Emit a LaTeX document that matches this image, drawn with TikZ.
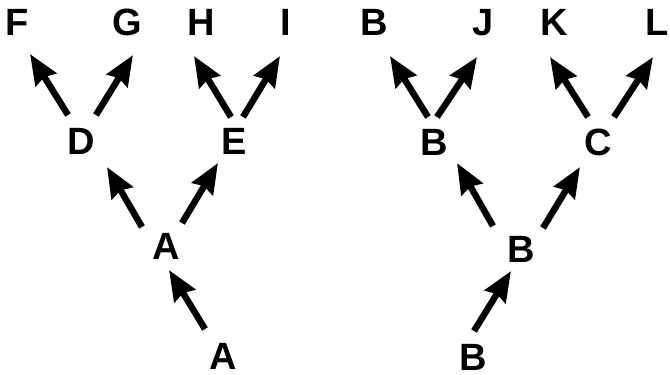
\documentclass[tikz,border=0pt]{standalone}
\usepackage{fontspec}
\setmainfont{Liberation Sans}
\usetikzlibrary{arrows.meta,calc}
\begin{document}
\begin{tikzpicture}[x=1pt,y=-1pt,
  lbl/.style={inner sep=0pt,text depth=0pt,font=\fontsize{38}{40}\selectfont\bfseries},
  arr/.style={line width=6.5pt,-{Stealth[length=30pt,width=24pt,inset=3pt]}}]
\useasboundingbox (0,0) rectangle (670,375);
% left tree
\node[lbl] (F) at (17,22) {F};
\node[lbl] (G) at (127,22) {G};
\node[lbl] (H) at (201,22) {H};
\node[lbl] (I) at (286,22) {I};
\node[lbl] (D) at (81,141) {D};
\node[lbl] (E) at (234,141) {E};
\node[lbl] (A1) at (166,246) {A};
\node[lbl] (A0) at (223,356) {A};
\draw[arr] ($(D)+(-13,-26)$) -- ($(F)+(13,32)$);
\draw[arr] ($(D)+(15,-26)$) -- ($(G)+(6,33)$);
\draw[arr] ($(E)+(-3,-24)$) -- ($(H)+(-7,34)$);
\draw[arr] ($(E)+(9,-24)$) -- ($(I)+(-6,34)$);
\draw[arr] ($(A1)+(-24,-19)$) -- ($(D)+(26,26)$);
\draw[arr] ($(A1)+(16,-23)$) -- ($(E)+(-16,22)$);
\draw[arr] ($(A0)+(-18,-27)$) -- ($(A1)+(3,24)$);
% right tree
\node[lbl] (B3) at (374,22) {B};
\node[lbl] (J) at (483,22) {J};
\node[lbl] (K) at (554,22) {K};
\node[lbl] (L) at (657,22) {L};
\node[lbl] (B2) at (434,142) {B};
\node[lbl] (C) at (598,142) {C};
\node[lbl] (B1) at (521,249) {B};
\node[lbl] (B0) at (473,357) {B};
\draw[arr] ($(B2)+(-6,-25)$) -- ($(B3)+(16,34)$);
\draw[arr] ($(B2)+(3,-25)$) -- ($(J)+(-6,35)$);
\draw[arr] ($(C)+(-10,-25)$) -- ($(K)+(-4,35)$);
\draw[arr] ($(C)+(16,-25)$) -- ($(L)+(-4,35)$);
\draw[arr] ($(B1)+(-28,-23)$) -- ($(B2)+(23,21)$);
\draw[arr] ($(B1)+(22,-21)$) -- ($(C)+(-18,25)$);
\draw[arr] ($(B0)+(1,-26)$) -- ($(B1)+(-10,22)$);
\end{tikzpicture}
\end{document}
